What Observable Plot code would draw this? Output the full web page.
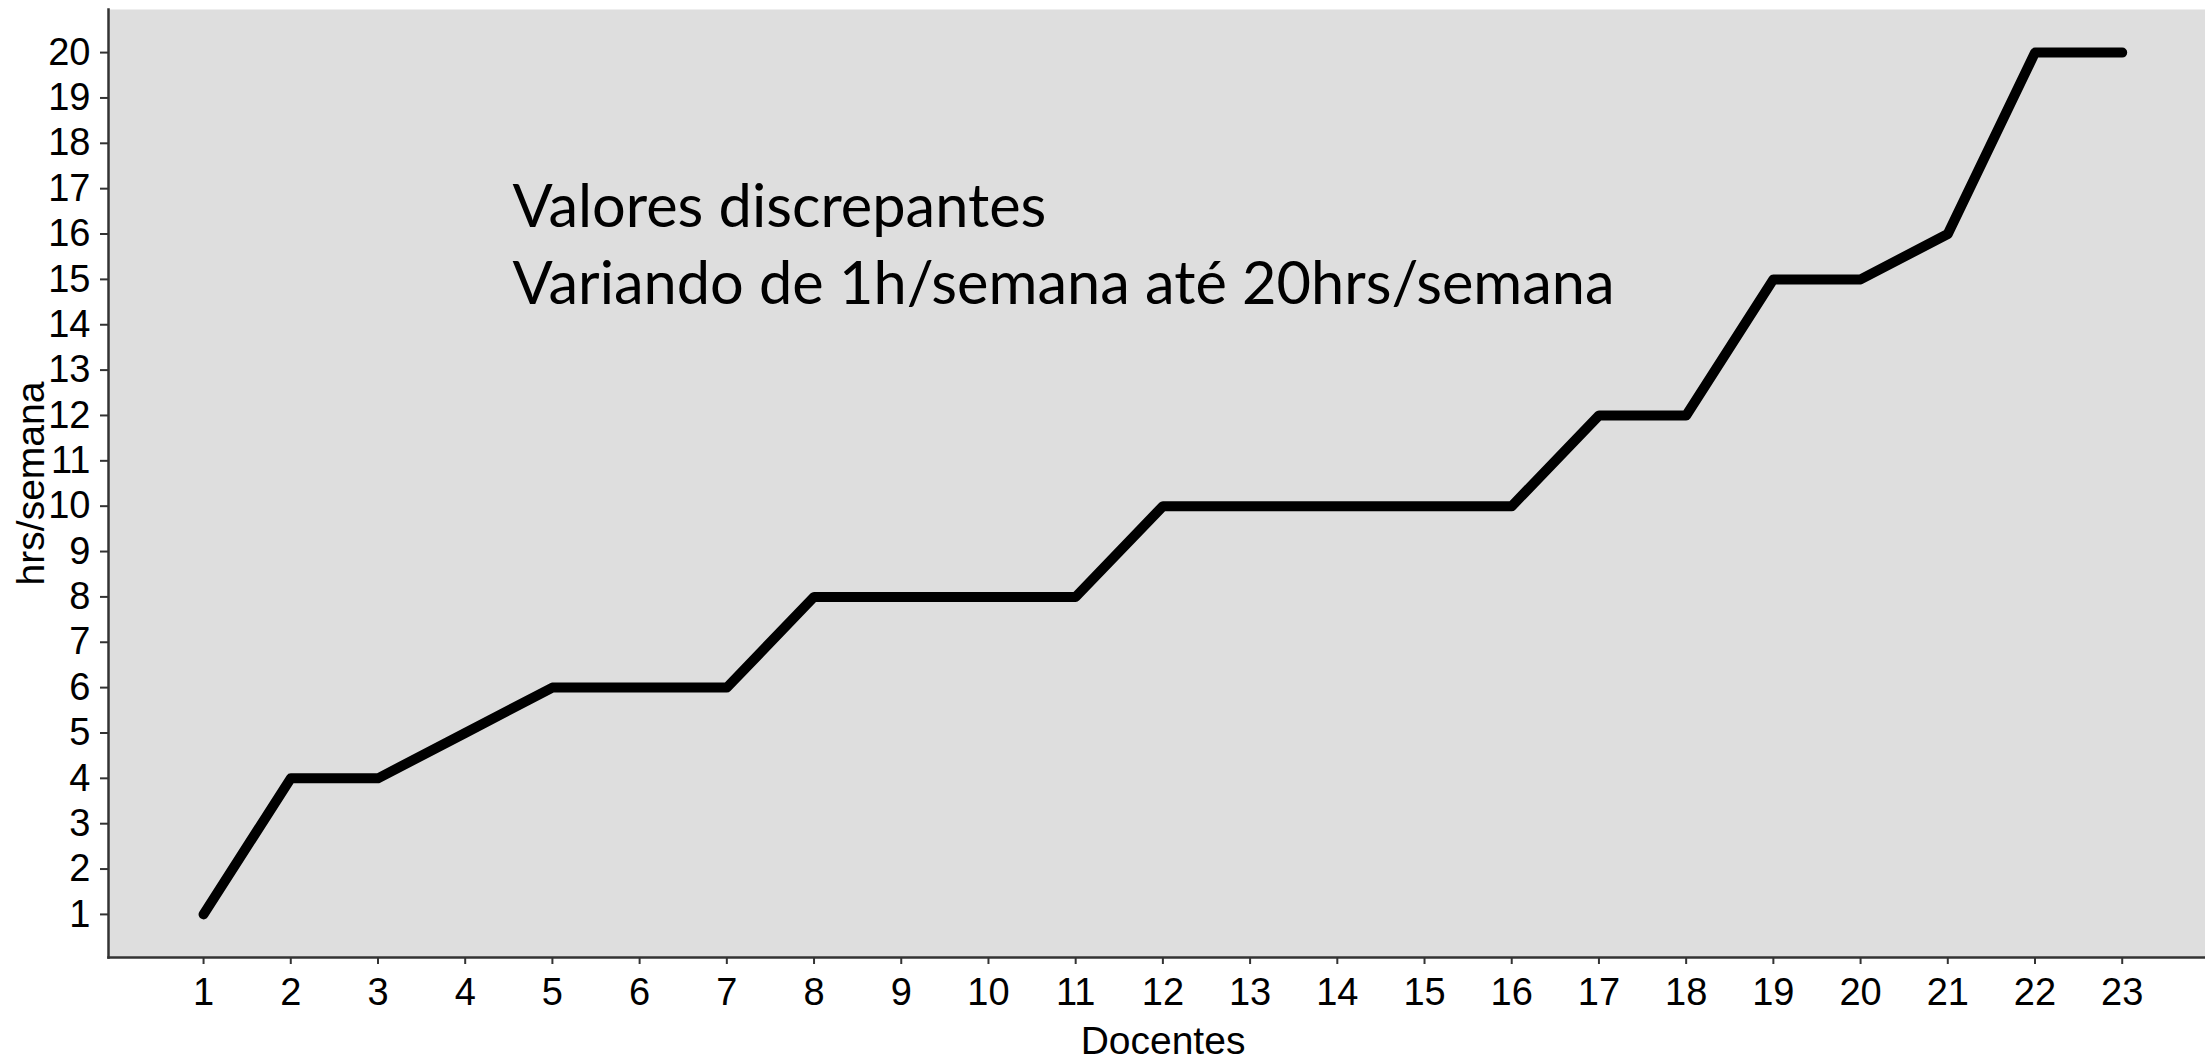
<!DOCTYPE html>
<html>
<head>
<meta charset="utf-8">
<script src="https://cdn.jsdelivr.net/npm/d3@7"></script>
<script src="https://cdn.jsdelivr.net/npm/@observablehq/plot@0.6"></script>
<style>
  html, body { margin: 0; padding: 0; background: #ffffff; }
  #chart svg { display: block; }
</style>
</head>
<body>
<div id="chart"></div>
<script>
const docentes = [1,2,3,4,5,6,7,8,9,10,11,12,13,14,15,16,17,18,19,20,21,22,23];
const horas = [1,4,4,5,6,6,6,8,8,8,8,10,10,10,10,10,12,12,15,15,16,20,20];
const yTicks = [1,2,3,4,5,6,7,8,9,10,11,12,13,14,15,16,17,18,19,20];
const xTicks = docentes;
const xTitle = "Docentes";
const yTitle = "hrs/semana";
const annotation = ["Valores discrepantes", "Variando de 1h/semana até 20hrs/semana"];

const data = docentes.map((d, i) => ({docente: d, horas: horas[i]}));

const chart = Plot.plot({
  width: 2205,
  height: 1060,
  marginLeft: 108,
  marginRight: 0,
  marginTop: 9,
  marginBottom: 103,
  style: {fontFamily: "'Liberation Sans', Arial, sans-serif", background: "#ffffff", color: "#000"},
  x: {domain: [-0.09, 23.955], label: null},
  y: {domain: [0.05, 20.95], label: null},
  marks: [
    Plot.frame({fill: "#dedede", stroke: "none"}),
    Plot.axisX(xTicks, {tickSize: 7, tickPadding: 14, fontSize: 38, stroke: "#333", strokeWidth: 2, fill: "#000", label: null}),
    Plot.axisY(yTicks, {tickSize: 8, tickPadding: 10, fontSize: 38, stroke: "#333", strokeWidth: 2, fill: "#000", label: null}),
    Plot.frame({anchor: "left", stroke: "#333", strokeWidth: 2.5}),
    Plot.frame({anchor: "bottom", stroke: "#333", strokeWidth: 2.5}),
    Plot.line(data, {x: "docente", y: "horas", stroke: "#000", strokeWidth: 10, strokeLinecap: "round", strokeLinejoin: "round"}),
    Plot.text([xTitle], {frameAnchor: "bottom", textAnchor: "middle", dx: 6, dy: 96, lineAnchor: "bottom", fontSize: 39, fill: "#000"}),
    Plot.text([yTitle], {frameAnchor: "left", textAnchor: "middle", dx: -65, dy: 0, rotate: -90, lineAnchor: "bottom", fontSize: 39, fill: "#000"}),
    Plot.text([annotation.join("\n")], {frameAnchor: "top-left", dx: 404, dy: 294, textAnchor: "start", lineAnchor: "bottom", lineHeight: 1.28, fontSize: 59.5, fontFamily: "Lato", fill: "#000"})
  ]
});
document.getElementById("chart").appendChild(chart);
</script>
</body>
</html>
